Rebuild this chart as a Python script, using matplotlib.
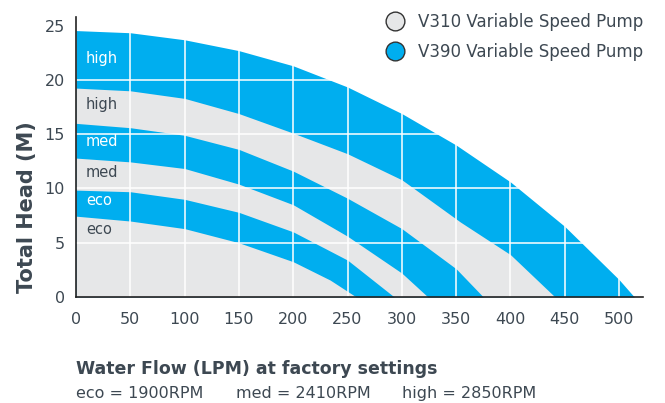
import numpy as np
import matplotlib.pyplot as plt
from matplotlib.lines import Line2D

plt.rcParams['font.family'] = ['DejaVu Sans']

# flow (LPM) / head (M)
v390_high_q = [0, 50, 100, 150, 200, 250, 300, 350, 400, 450, 500, 514]
v390_high_h = [24.55, 24.35, 23.7, 22.7, 21.3, 19.35, 16.9, 14.0, 10.6, 6.5, 1.6, 0]
v310_high_q = [0, 50, 100, 150, 200, 250, 300, 354, 400, 441]
v310_high_h = [19.25, 19.0, 18.3, 16.9, 15.1, 13.2, 10.8, 6.9, 3.9, 0]
v390_med_q = [0, 50, 100, 150, 200, 250, 300, 350, 375]
v390_med_h = [16.0, 15.6, 14.9, 13.6, 11.6, 9.1, 6.3, 2.6, 0]
v310_med_q = [0, 50, 100, 150, 200, 250, 300, 324]
v310_med_h = [12.8, 12.45, 11.84, 10.4, 8.5, 5.6, 2.2, 0]
v390_eco_q = [0, 50, 100, 150, 200, 250, 293]
v390_eco_h = [9.85, 9.7, 9.0, 7.8, 6.0, 3.4, 0]
v310_eco_q = [0, 50, 100, 150, 200, 234, 258]
v310_eco_h = [7.45, 7.0, 6.3, 5.0, 3.25, 1.56, 0]

rpm_notes = ['eco = 1900RPM', 'med = 2410RPM', 'high = 2850RPM']

blue = '#00aeef'
grey = '#e6e7e8'
txt = '#3d4852'

fig = plt.figure(figsize=(6.65, 4.03), dpi=100)
ax = fig.add_axes([76/665, 106/403, 567/665, 280/403])

curves = [
    (v390_high_q, v390_high_h, blue),
    (v310_high_q, v310_high_h, grey),
    (v390_med_q, v390_med_h, blue),
    (v310_med_q, v310_med_h, grey),
    (v390_eco_q, v390_eco_h, blue),
    (v310_eco_q, v310_eco_h, grey),
]
for i, (q, h, c) in enumerate(curves):
    ax.fill_between(q, 0, h, color=c, lw=0, zorder=1 + i)

for gx in range(50, 501, 50):
    ax.axvline(gx, color='white', lw=1.1, zorder=10)
for gy in range(5, 21, 5):
    ax.axhline(gy, color='white', lw=1.1, zorder=10)

# band labels
labels = [('high', 22.0, 'white'), ('high', 17.75, txt), ('med', 14.3, 'white'),
          ('med', 11.5, txt), ('eco', 8.9, 'white'), ('eco', 6.25, txt)]
for s, y, c in labels:
    ax.text(9, y, s, color=c, fontsize=10.5, va='center', ha='left', zorder=11)

ax.set_xlim(0, 522)
ax.set_ylim(0, 25.8)
ax.set_xticks(range(0, 501, 50))
ax.set_yticks(range(0, 26, 5))
ax.tick_params(length=0, labelsize=11.5, colors=txt)
ax.tick_params(axis='x', pad=11)
ax.tick_params(axis='y', pad=8)
for s in ['top', 'right']:
    ax.spines[s].set_visible(False)
for s in ['left', 'bottom']:
    ax.spines[s].set_color('#222222')
    ax.spines[s].set_linewidth(1.2)
    ax.spines[s].set_zorder(12)

fig.text(27/665, 1 - 207/403, 'Total Head (M)', rotation=90, ha='center', va='center',
         fontsize=15, fontweight='bold', color=txt)
fig.text(76/665, 1 - 374/403, 'Water Flow (LPM) at factory settings', ha='left', va='baseline',
         fontsize=12.5, fontweight='bold', color=txt)
for xp, s in zip([76, 236, 402], rpm_notes):
    fig.text(xp/665, 1 - 398/403, s, ha='left', va='baseline', fontsize=11.5, color=txt)

handles = [
    Line2D([], [], marker='o', ls='', ms=13.5, markerfacecolor=grey, markeredgecolor='#333333', markeredgewidth=1),
    Line2D([], [], marker='o', ls='', ms=13.5, markerfacecolor=blue, markeredgecolor='#333333', markeredgewidth=1),
]
fig.legend(handles, ['V310 Variable Speed Pump', 'V390 Variable Speed Pump'],
           loc='upper right', bbox_to_anchor=(650/665, 1 - 6/403), frameon=False,
           fontsize=12, labelcolor=txt, handletextpad=0.4, labelspacing=0.75, borderaxespad=0)

fig.savefig('out.png', dpi=100)
